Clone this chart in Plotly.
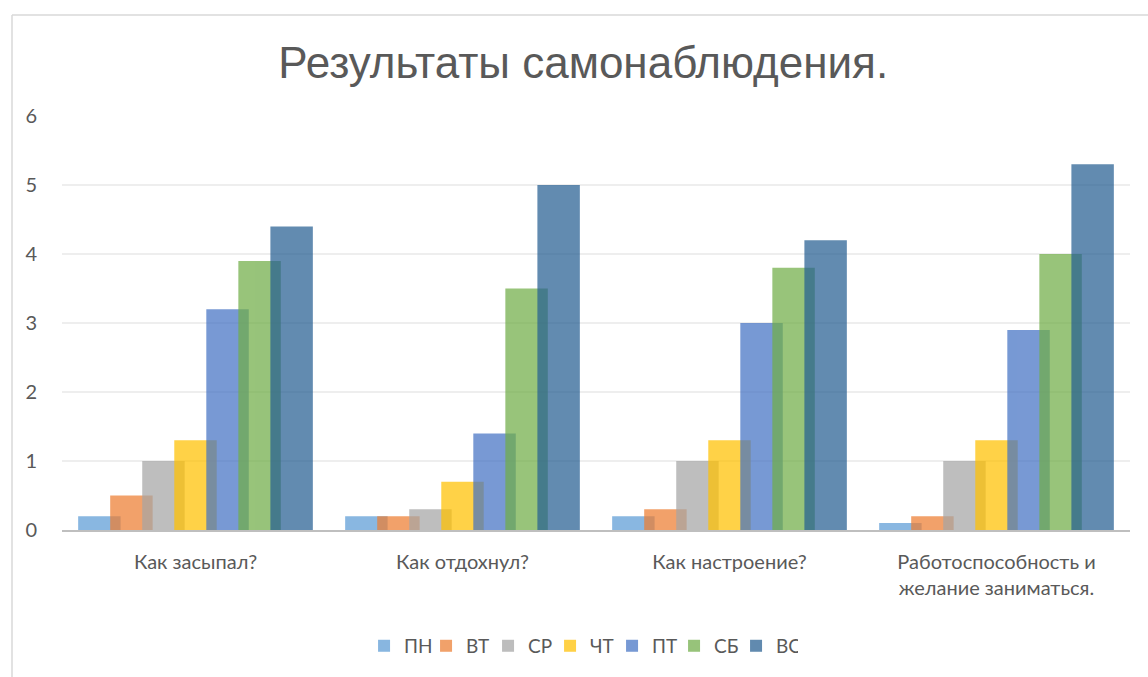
import plotly.graph_objects as go

categories = ["Как засыпал?", "Как отдохнул?", "Как настроение?", "Работоспособность и<br>желание заниматься."]
days = ["ПН", "ВТ", "СР", "ЧТ", "ПТ", "СБ", "ВС"]
pn = [0.2, 0.2, 0.2, 0.1]
vt = [0.5, 0.2, 0.3, 0.2]
sr = [1.0, 0.3, 1.0, 1.0]
cht = [1.3, 0.7, 1.3, 1.3]
pt = [3.2, 1.4, 3.0, 2.9]
sb = [3.9, 3.5, 3.8, 4.0]
vs = [4.4, 5.0, 4.2, 5.3]
series = [pn, vt, sr, cht, pt, sb, vs]
colors = ["#5B9BD5", "#ED7D31", "#A5A5A5", "#FFC000", "#4472C4", "#70AD47", "#255E91"]

bar_w = 0.159
step = 0.12
start = -(step * 6 + bar_w) / 2

fig = go.Figure()
for i, (name, vals, col) in enumerate(zip(days, series, colors)):
    fig.add_trace(go.Bar(
        x=categories, y=vals, name=name,
        marker=dict(color=col, line=dict(width=0)),
        opacity=0.72,
        width=bar_w, offset=start + step * i,
    ))

top_y = (677 - 143 - 14) / 418
left_x = -50 / 1068

fig.update_layout(
    barmode="overlay",
    width=1148, height=677,
    paper_bgcolor="white", plot_bgcolor="white",
    margin=dict(l=62, r=18, t=116, b=143),
    title=dict(text="Результаты самонаблюдения.", x=0.508, xanchor="center",
               y=0.908, yanchor="middle",
               font=dict(family="Liberation Sans", size=44, color="#595959")),
    font=dict(family="Lato", size=20, color="#595959"),
    xaxis=dict(showline=True, linecolor="#BFBFBF", linewidth=2, ticks="",
               ticklabelstandoff=13,
               tickfont=dict(size=20, color="#595959"), showgrid=False),
    yaxis=dict(range=[0, 6], dtick=1, showgrid=True, gridcolor="#EEEEEE", gridwidth=1.5,
               zeroline=False, showline=False, ticks="", ticklabelstandoff=24,
               tickfont=dict(size=20, color="#595959")),
    legend=dict(orientation="h", x=0.486, xanchor="center", y=-0.28, yanchor="middle",
                font=dict(size=19, color="#595959"), itemwidth=30,
                entrywidth=17, entrywidthmode="pixels"),
    showlegend=True,
    shapes=[
        dict(type="line", xref="paper", yref="paper",
             x0=left_x, x1=1.1, y0=top_y, y1=top_y,
             line=dict(color="#D9D9D9", width=1.5)),
        dict(type="line", xref="paper", yref="paper",
             x0=left_x, x1=left_x, y0=top_y, y1=-0.5,
             line=dict(color="#D9D9D9", width=1.5)),
    ],
)

fig.write_html("out.html", config={"displayModeBar": False},
               post_script="document.body.style.margin='0';")
